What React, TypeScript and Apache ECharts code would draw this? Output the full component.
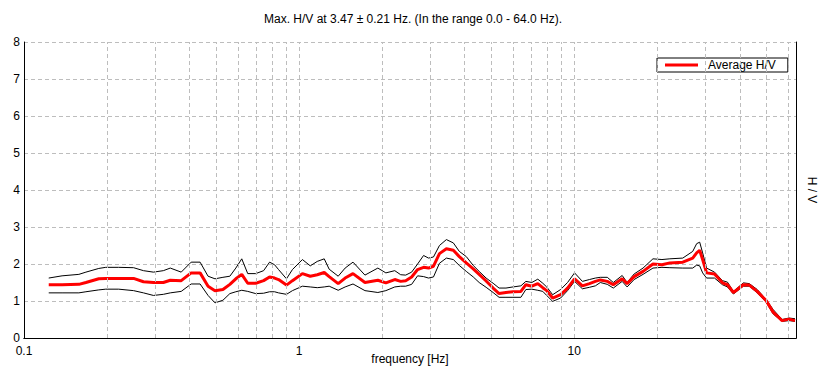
import React, { useEffect, useRef } from "react";
import * as echarts from "echarts";

const titleText = "Max. H/V at 3.47 \u00b1 0.21 Hz. (In the range 0.0 - 64.0 Hz).";
const xAxisName = "frequency [Hz]";
const yAxisName = "H / V";
const legendName = "Average H/V";

const freqs = [
  0.123, 0.1375, 0.1583, 0.1679, 0.187, 0.1982, 0.2208, 0.2502, 0.2718, 0.2954,
  0.321, 0.3402, 0.3728, 0.4052, 0.4366, 0.4667, 0.4945, 0.5285, 0.5602, 0.5888,
  0.6188, 0.6506, 0.6954, 0.743, 0.7811, 0.8143, 0.8419, 0.8998, 0.9458, 1.028,
  1.098, 1.164, 1.234, 1.286, 1.387, 1.47, 1.57, 1.735, 1.933, 2.067,
  2.227, 2.34, 2.44, 2.565, 2.696, 2.834, 2.954, 3.079, 3.237, 3.431,
  3.636, 3.823, 4.052, 4.295, 4.514, 4.784, 5.072, 5.331, 5.649, 5.989,
  6.4, 6.672, 7.013, 7.372, 7.686, 7.943, 8.35, 8.923, 9.458, 10.03,
  10.71, 11.36, 11.94, 12.44, 13.19, 13.87, 14.94, 15.57, 16.51, 17.79,
  19.33, 20.84, 22.27, 24.81, 26.96, 27.87, 28.58, 29.3, 30.28, 32.36,
  34.59, 36.06, 37.91, 41.19, 43.3, 46.27, 49.86, 52.85, 56.96, 60.38,
  63.48,
];

const upperHV = [
  1.62, 1.68, 1.72, 1.78, 1.88, 1.91, 1.91, 1.9, 1.82, 1.78,
  1.82, 1.89, 1.78, 2.05, 2.05, 1.67, 1.6, 1.64, 1.67, 1.89,
  2.14, 1.74, 1.74, 1.82, 2.05, 1.98, 1.85, 1.6, 1.85, 2.12,
  1.95, 2.07, 2.14, 1.86, 1.67, 1.89, 2.05, 1.7, 1.89, 1.76,
  1.82, 1.71, 1.7, 1.78, 2.0, 2.23, 2.16, 2.19, 2.5, 2.66,
  2.57, 2.34, 2.2, 1.96, 1.8, 1.62, 1.48, 1.35, 1.35, 1.38,
  1.41, 1.53, 1.5, 1.59, 1.48, 1.38, 1.17, 1.31, 1.5, 1.76,
  1.53, 1.58, 1.62, 1.64, 1.64, 1.5, 1.69, 1.5, 1.73, 1.89,
  2.14, 2.12, 2.14, 2.16, 2.34, 2.55, 2.59, 2.3, 1.89, 1.78,
  1.55, 1.51, 1.26, 1.49, 1.47, 1.31, 1.04, 0.77, 0.5, 0.54,
  0.52,
];

const averageHV = [
  1.44, 1.44, 1.45, 1.5, 1.6, 1.61, 1.61, 1.61, 1.52, 1.5,
  1.5, 1.56, 1.55, 1.76, 1.76, 1.4, 1.28, 1.31, 1.45, 1.6,
  1.72, 1.48, 1.48, 1.55, 1.65, 1.62, 1.58, 1.43, 1.55, 1.74,
  1.67, 1.71, 1.77, 1.66, 1.47, 1.62, 1.74, 1.5, 1.56, 1.49,
  1.58, 1.53, 1.55, 1.65, 1.85, 1.91, 1.89, 1.94, 2.28, 2.41,
  2.37, 2.2, 2.03, 1.87, 1.72, 1.54, 1.35, 1.2, 1.23, 1.25,
  1.26, 1.44, 1.4, 1.47, 1.36, 1.28, 1.08, 1.17, 1.35, 1.6,
  1.41, 1.47, 1.53, 1.57, 1.53, 1.44, 1.6, 1.47, 1.66, 1.8,
  2.0, 1.98, 2.03, 2.05, 2.16, 2.3, 2.37, 2.12, 1.76, 1.73,
  1.49, 1.44, 1.23, 1.44, 1.43, 1.26, 1.01, 0.7, 0.47, 0.51,
  0.47,
];

const lowerHV = [
  1.22, 1.22, 1.22, 1.25, 1.3, 1.32, 1.32, 1.28, 1.22, 1.15,
  1.18, 1.22, 1.26, 1.46, 1.46, 1.15, 0.95, 1.02, 1.2, 1.25,
  1.29, 1.26, 1.2, 1.21, 1.25, 1.25, 1.22, 1.18, 1.28, 1.4,
  1.38, 1.36, 1.38, 1.4, 1.29, 1.38, 1.46, 1.28, 1.23, 1.28,
  1.38, 1.4, 1.4, 1.45, 1.68, 1.66, 1.62, 1.65, 2.02, 2.16,
  2.12, 1.96, 1.8, 1.65, 1.5, 1.37, 1.23, 1.1, 1.1, 1.1,
  1.1, 1.31, 1.32, 1.29, 1.26, 1.15, 0.99, 1.08, 1.28, 1.53,
  1.33, 1.37, 1.41, 1.5, 1.45, 1.35, 1.53, 1.38, 1.58, 1.72,
  1.89, 1.91, 1.9, 1.89, 1.89, 1.97, 1.95, 1.76, 1.62, 1.62,
  1.44, 1.38, 1.19, 1.4, 1.4, 1.22, 0.97, 0.65, 0.45, 0.47,
  0.45,
];

const gridFreqs = [
  0.2, 0.3, 0.4, 0.5, 0.6, 0.7, 0.8, 0.9,
  1, 2, 3, 4, 5, 6, 7, 8, 9,
  10, 20, 30, 40, 50, 60,
];
const xLabelValues = [0.1, 1, 10];
const xMin = 0.1;
const xMax = 64;
const yMin = 0;
const yMax = 8;
const yStep = 1;

export default function App() {
  const ref = useRef<HTMLDivElement>(null);

  useEffect(() => {
    document.body.style.margin = "0";
    const chart = echarts.init(ref.current!, null, { renderer: "svg" });
    const font = "'Liberation Sans', Arial, sans-serif";
    const pair = (vals: number[]) => freqs.map((f, i) => [f, vals[i]]);
    const gridColor = "#bdbdbd";
    const xFormatter = (v: number) => {
      const m = xLabelValues.find((t) => Math.abs(t - v) / t < 0.01);
      return m === undefined ? "" : String(m);
    };

    chart.setOption({
      animation: false,
      textStyle: { fontFamily: font },
      title: {
        text: titleText,
        left: "center",
        top: 13,
        padding: 0,
        textStyle: { fontSize: 12, fontWeight: "normal", color: "#000", fontFamily: font },
      },
      legend: {
        data: [{ name: legendName, itemStyle: { color: "#ff0000" } }],
        left: 657,
        top: 58,
        orient: "horizontal",
        padding: [1, 12, 1, 8],
        borderColor: "#000",
        borderWidth: 1,
        borderRadius: 0,
        backgroundColor: "#fff",
        icon: "rect",
        itemWidth: 33,
        itemHeight: 3,
        selectedMode: false,
        textStyle: { fontSize: 12, color: "#000", fontFamily: font, padding: [0, 0, 0, 5] },
      },
      grid: { left: 24, right: 24, top: 42, bottom: 43, containLabel: false },
      xAxis: [
        {
          type: "log",
          logBase: 10,
          min: xMin,
          max: xMax,
          name: xAxisName,
          nameLocation: "middle",
          nameGap: 15,
          nameMoveOverlap: false,
          nameTextStyle: { fontSize: 12, color: "#000", fontFamily: font },
          axisLine: { show: true, lineStyle: { color: "#000", width: 1 } },
          axisTick: { show: false },
          splitLine: { show: false },
          axisLabel: {
            color: "#000",
            fontSize: 12,
            margin: 7,
            fontFamily: font,
            showMaxLabel: false,
            formatter: xFormatter,
          },
        },
        {
          type: "log",
          logBase: 10,
          min: xMin,
          max: xMax,
          position: "top",
          axisLine: { show: true, lineStyle: { color: "#000", width: 1 } },
          axisTick: { show: false },
          axisLabel: { show: false },
          splitLine: { show: false },
        },
      ],
      yAxis: [
        {
          type: "value",
          min: yMin,
          max: yMax,
          interval: yStep,
          axisLine: { show: true, lineStyle: { color: "#000", width: 1 } },
          axisTick: { show: false },
          axisLabel: { color: "#000", fontSize: 12, margin: 4, fontFamily: font },
          splitLine: { show: true, lineStyle: { color: gridColor, type: [4, 3], width: 1 } },
        },
        {
          type: "value",
          min: yMin,
          max: yMax,
          interval: yStep,
          position: "right",
          name: yAxisName,
          nameLocation: "middle",
          nameRotate: -90,
          nameGap: 10,
          nameMoveOverlap: false,
          nameTextStyle: { fontSize: 12, color: "#000", fontFamily: font },
          axisLine: { show: true, lineStyle: { color: "#000", width: 1 } },
          axisTick: { show: false },
          axisLabel: { show: false },
          splitLine: { show: false },
        },
      ],
      series: [
        {
          name: "grid",
          type: "line",
          data: [],
          z: 1,
          silent: true,
          markLine: {
            silent: true,
            symbol: ["none", "none"],
            label: { show: false },
            lineStyle: { color: gridColor, type: [4, 3], width: 1 },
            data: gridFreqs.map((f) => ({ xAxis: f })),
          },
        },
        {
          name: "Lower",
          type: "line",
          data: pair(lowerHV),
          showSymbol: false,
          symbol: "none",
          z: 3,
          lineStyle: { color: "#000", width: 1 },
        },
        {
          name: "Upper",
          type: "line",
          data: pair(upperHV),
          showSymbol: false,
          symbol: "none",
          z: 3,
          lineStyle: { color: "#000", width: 1 },
        },
        {
          name: legendName,
          type: "line",
          data: pair(averageHV),
          showSymbol: false,
          symbol: "none",
          z: 4,
          itemStyle: { color: "#ff0000" },
          lineStyle: { color: "#ff0000", width: 3 },
        },
      ],
    });

    return () => chart.dispose();
  }, []);

  return <div ref={ref} style={{ width: 826, height: 381 }} />;
}
